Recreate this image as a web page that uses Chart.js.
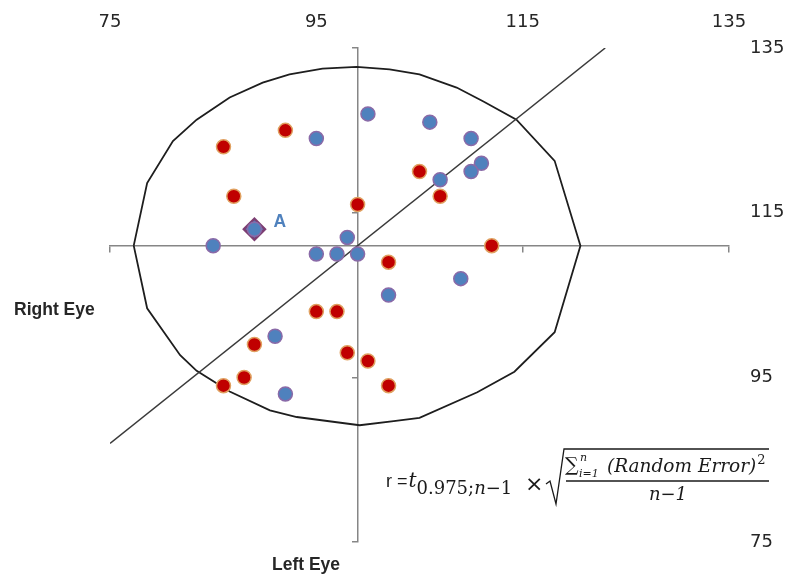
<!DOCTYPE html>
<html>
<head>
<meta charset="utf-8">
<script src="https://cdn.jsdelivr.net/npm/chart.js@4"></script>
<style>
  html, body { margin: 0; padding: 0; background: #fff; }
  #wrap { position: relative; width: 788px; height: 574px; }
</style>
</head>
<body>
<div id="wrap"><canvas id="eye-chart"></canvas></div>
<script>
"use strict";

////////  DATA ///////////
const tick_values = [75, 95, 115, 135];
const axis_cross = { x: 99, y: 111 };

// red points
const red_x = [86, 92, 87, 99, 105, 107, 112, 102, 95, 97, 89, 98, 100, 88, 86, 102];
const red_y = [123, 125, 117, 116, 120, 117, 111, 109, 103, 103, 99, 98, 97, 95, 94, 94];

// blue points (A is one of them)
const blue_x = [100, 95, 106, 110, 111, 110, 107, 85, 89, 98, 95, 97, 99, 109, 102, 91, 92];
const blue_y = [127, 124, 126, 124, 121, 120, 119, 111, 113, 112, 110, 110, 110, 107, 105, 100, 93];

const point_a = { label: 'A', x: 89, y: 113 };

// diagonal line
const diag_x = [75, 123];
const diag_y = [87, 135];

// outline (goes round clockwise from the left)
const ellipse_x = [77.3, 78.6, 81.1, 83.4, 86.6, 89.8, 92.4, 95.6, 98.9, 102.1, 105.0, 108.6, 111.2, 114.4, 118.1, 120.6,
                   118.1, 114.2, 110.6, 105.0, 102.5, 99.2, 93.1, 90.5, 86.6, 83.4, 81.8, 78.6, 77.3];
const ellipse_y = [111.0, 118.6, 123.7, 126.3, 129.0, 130.8, 131.8, 132.5, 132.7, 132.4, 131.8, 130.2, 128.5, 126.3, 121.3, 111.0,
                   100.5, 95.7, 93.2, 90.1, 89.7, 89.2, 90.2, 91.0, 93.3, 95.8, 97.7, 103.4, 111.0];

const axis_titles = { right: 'Right Eye', left: 'Left Eye' };

//////// HELPERS /////////
function to_points(xs, ys) {
  return xs.map((x, i) => ({ x: x, y: ys[i] }));
}

function set_ticks(scale) {
  scale.ticks = tick_values.map(v => ({ value: v }));
}

// draw text and return where it ends
function put(ctx, s, x, y, font) {
  ctx.font = font;
  ctx.fillText(s, x, y);
  return x + ctx.measureText(s).width;
}

// titles, "A" label and the formula
const notes_plugin = {
  id: 'notes',
  afterDraw(chart) {
    const ctx = chart.ctx;
    ctx.save();
    ctx.textAlign = 'left';
    ctx.textBaseline = 'alphabetic';

    // axis titles
    ctx.fillStyle = '#262626';
    put(ctx, axis_titles.right, 14, 314.5, 'bold 17.5px "Liberation Sans", Arial, sans-serif');
    put(ctx, axis_titles.left, 272, 570, 'bold 17.5px "Liberation Sans", Arial, sans-serif');

    // label next to A
    const ax = chart.scales.x.getPixelForValue(point_a.x);
    const ay = chart.scales.y.getPixelForValue(point_a.y);
    ctx.fillStyle = '#4F81BD';
    put(ctx, point_a.label, ax + 19, ay - 2.5, 'bold 17.5px "Liberation Sans", Arial, sans-serif');

    // formula
    const serif = '"DejaVu Serif", serif';
    ctx.fillStyle = '#1a1a1a';
    let x = put(ctx, 'r =', 386, 487, '18px "Liberation Sans", Arial, sans-serif');
    x = put(ctx, 't', x + 1, 487, 'italic 20px ' + serif);
    x = put(ctx, '0.975;', x, 494, '18px ' + serif);
    x = put(ctx, 'n', x, 494, 'italic 18px ' + serif);
    put(ctx, '\u22121', x, 494, '18px ' + serif);
    put(ctx, '\u00d7', 525, 491, '22px "DejaVu Sans", sans-serif');

    // radical and fraction bar
    ctx.strokeStyle = '#1a1a1a';
    ctx.lineWidth = 1.3;
    ctx.beginPath();
    ctx.moveTo(546, 484);
    ctx.lineTo(550, 481);
    ctx.lineTo(556, 504);
    ctx.lineTo(564, 449);
    ctx.lineTo(769, 449);
    ctx.stroke();
    ctx.beginPath();
    ctx.moveTo(566, 481);
    ctx.lineTo(769, 481);
    ctx.stroke();

    put(ctx, '\u2211', 565, 471, '19px ' + serif);
    put(ctx, 'n', 580, 461, 'italic 11px ' + serif);
    put(ctx, 'i=1', 579, 477, 'italic 11px ' + serif);
    x = put(ctx, '(Random Error)', 607, 472, 'italic 18.5px ' + serif);
    put(ctx, '2', x + 1, 464, '13px ' + serif);
    ctx.font = 'italic 18px ' + serif;
    const den = 'n\u22121';
    put(ctx, den, 668 - ctx.measureText(den).width / 2, 500, 'italic 18px ' + serif);

    ctx.restore();
  }
};

//////// CHART /////////
const label_font = { family: '"DejaVu Sans", sans-serif', size: 18 };
const label_color = '#262626';
const axis_grey = '#868686';

const eye_chart = new Chart(document.getElementById('eye-chart').getContext('2d'), {
  type: 'scatter',
  data: {
    datasets: [
      {
        label: 'blue',
        data: to_points(blue_x, blue_y),
        backgroundColor: '#4F81BD',
        borderColor: '#8A6AA8',
        borderWidth: 1.5,
        pointRadius: 7,
        order: 1
      },
      {
        label: 'A',
        data: [{ x: point_a.x, y: point_a.y }],
        pointStyle: 'rectRot',
        backgroundColor: '#4F81BD',
        borderColor: '#7d3f73',
        borderWidth: 2.5,
        pointRadius: 10.5,
        order: 2
      },
      {
        label: 'red',
        data: to_points(red_x, red_y),
        backgroundColor: '#C00000',
        borderColor: '#E0A060',
        borderWidth: 1.5,
        pointRadius: 7,
        order: 3
      },
      {
        label: 'diagonal',
        data: to_points(diag_x, diag_y),
        showLine: true,
        borderColor: '#3a3a3a',
        borderWidth: 1.5,
        pointRadius: 0,
        order: 4
      },
      {
        label: 'outline',
        data: to_points(ellipse_x, ellipse_y),
        showLine: true,
        borderColor: '#1e1e1e',
        borderWidth: 1.8,
        pointRadius: 0,
        order: 5
      }
    ]
  },
  options: {
    responsive: true,
    maintainAspectRatio: false,
    animation: false,
    layout: { padding: { left: 110, right: 0, top: 0, bottom: 29 } },
    plugins: {
      legend: { display: false },
      tooltip: { enabled: false }
    },
    scales: {
      x: {
        type: 'linear',
        position: 'top',
        min: 75,
        max: 135,
        afterBuildTicks: set_ticks,
        afterFit: (s) => { s.height = 48; },
        grid: { display: false, drawTicks: false },
        border: { display: false },
        ticks: { padding: 15, color: label_color, font: label_font }
      },
      y: {
        type: 'linear',
        position: 'right',
        min: 75,
        max: 135,
        afterBuildTicks: set_ticks,
        afterFit: (s) => { s.width = 59; },
        grid: { display: false, drawTicks: false },
        border: { display: false },
        ticks: { padding: 21, color: label_color, font: label_font }
      },
      // the cross in the middle
      xc: {
        type: 'linear',
        axis: 'x',
        position: { y: axis_cross.y },
        min: 75,
        max: 135,
        afterBuildTicks: set_ticks,
        grid: { drawOnChartArea: false, drawTicks: true, tickLength: 6, color: axis_grey, lineWidth: 1.5 },
        border: { color: axis_grey, width: 1.5 },
        ticks: { display: false }
      },
      yc: {
        type: 'linear',
        axis: 'y',
        position: { x: axis_cross.x },
        min: 75,
        max: 135,
        afterBuildTicks: set_ticks,
        grid: { drawOnChartArea: false, drawTicks: true, tickLength: 5, color: axis_grey, lineWidth: 1.5 },
        border: { color: axis_grey, width: 1.5 },
        ticks: { display: false }
      }
    }
  },
  plugins: [notes_plugin]
});
</script>
</body>
</html>
